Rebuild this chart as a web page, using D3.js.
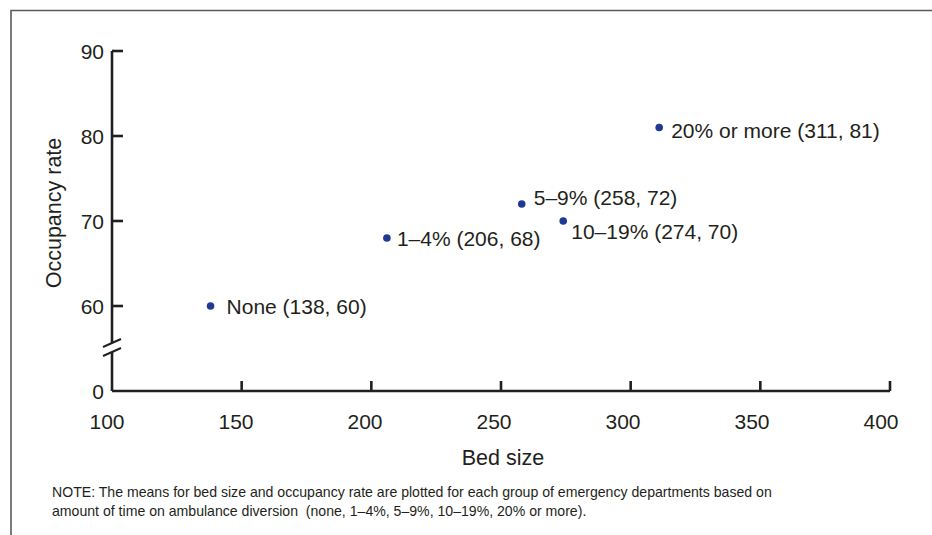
<!DOCTYPE html>
<html>
<head>
<meta charset="utf-8">
<script src="https://cdn.jsdelivr.net/npm/d3@7/dist/d3.min.js"></script>
<style>
  body { margin: 0; background: #fff; }
  text { font-family: "Liberation Sans", Arial, sans-serif; fill: #231f20; }
</style>
</head>
<body>
<div id="chart"></div>
<script>
var width = 932,
    height = 535;

// data
var groups = ["None", "1–4%", "5–9%", "10–19%", "20% or more"];
var bedSize = [138, 206, 258, 274, 311];
var occupancy = [60, 68, 72, 70, 81];
var xTicks = [100, 150, 200, 250, 300, 350, 400];
var yTicks = [0, 60, 70, 80, 90];

// label placement relative to each dot
var labelDx = [16, 10, 12, 8, 12];
var labelDy = [8, 8, 1, 18, 10.5];

var ink = "#231f20";

var svg = d3.select("#chart")
    .append("svg")
    .attr("width", width)
    .attr("height", height);

// frame
svg.append("path")
    .attr("d", "M11,535V10.5H932")
    .attr("fill", "none")
    .attr("stroke", "#5a5a5a")
    .attr("stroke-width", 1.6);

var x = d3.scaleLinear()
    .domain([100, 400])
    .range([112, 890]);

// tick labels in the original sit a little left of their ticks
var xLabel = d3.scaleLinear()
    .domain([100, 400])
    .range([107, 881]);

// broken axis: 0 sits below the break, 60-90 above it
var y = d3.scaleLinear()
    .domain([0, 60, 90])
    .range([391, 306, 51]);

var axes = svg.append("g")
    .attr("stroke", ink)
    .attr("stroke-width", 2.6)
    .attr("fill", "none");

// y axis line with gap for break
axes.append("line")
    .attr("x1", x(100)).attr("x2", x(100))
    .attr("y1", y(90)).attr("y2", 343);
axes.append("line")
    .attr("x1", x(100)).attr("x2", x(100))
    .attr("y1", 352).attr("y2", y(0));
// break marks
[343, 352].forEach(function (b) {
    axes.append("line")
        .attr("x1", x(100) - 9).attr("y1", b + 4)
        .attr("x2", x(100) + 9).attr("y2", b - 4)
        .attr("stroke-width", 2);
});

// x axis line
axes.append("line")
    .attr("x1", x(100)).attr("x2", x(400))
    .attr("y1", y(0)).attr("y2", y(0));

// ticks point inward
axes.selectAll(".xt")
    .data(xTicks.slice(1))
    .enter()
    .append("line")
    .attr("x1", function (d) { return x(d); })
    .attr("x2", function (d) { return x(d); })
    .attr("y1", y(0))
    .attr("y2", y(0) - 10);

axes.selectAll(".yt")
    .data(yTicks.slice(1))
    .enter()
    .append("line")
    .attr("x1", x(100))
    .attr("x2", x(100) + 11)
    .attr("y1", function (d) { return y(d); })
    .attr("y2", function (d) { return y(d); });

svg.selectAll(".xl")
    .data(xTicks)
    .enter()
    .append("text")
    .attr("x", function (d) { return xLabel(d); })
    .attr("y", 429)
    .attr("text-anchor", "middle")
    .attr("font-size", 21)
    .text(function (d) { return d; });

svg.selectAll(".yl")
    .data(yTicks)
    .enter()
    .append("text")
    .attr("x", 104)
    .attr("y", function (d) { return y(d) + 7.5; })
    .attr("text-anchor", "end")
    .attr("font-size", 21)
    .text(function (d) { return d; });

svg.append("text")
    .attr("x", 503)
    .attr("y", 465)
    .attr("text-anchor", "middle")
    .attr("font-size", 21.5)
    .text("Bed size");

svg.append("text")
    .attr("transform", "translate(61,213) rotate(-90)")
    .attr("text-anchor", "middle")
    .attr("font-size", 21.5)
    .text("Occupancy rate");

// points
var pts = svg.append("g")
    .selectAll("g")
    .data(groups)
    .enter()
    .append("g");

pts.append("circle")
    .attr("cx", function (d, i) { return x(bedSize[i]); })
    .attr("cy", function (d, i) { return y(occupancy[i]); })
    .attr("r", 3.8)
    .attr("fill", "#1f3a93");

pts.append("text")
    .attr("x", function (d, i) { return x(bedSize[i]) + labelDx[i]; })
    .attr("y", function (d, i) { return y(occupancy[i]) + labelDy[i]; })
    .attr("font-size", 21)
    .text(function (d, i) { return d + " (" + bedSize[i] + ", " + occupancy[i] + ")"; });

// note
var note = [
    "NOTE: The means for bed size and occupancy rate are plotted for each group of emergency departments based on",
    "amount of time on ambulance diversion  (none, 1–4%, 5–9%, 10–19%, 20% or more)."
];
svg.selectAll(".note")
    .data(note)
    .enter()
    .append("text")
    .attr("x", 52)
    .attr("y", function (d, i) { return 497 + i * 19; })
    .attr("font-size", 14.1)
    .attr("xml:space", "preserve")
    .style("white-space", "pre")
    .text(function (d) { return d; });
</script>
</body>
</html>
